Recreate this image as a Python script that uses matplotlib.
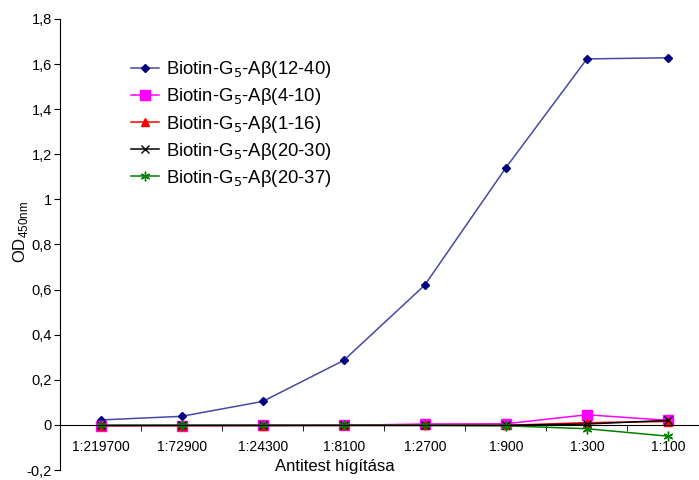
import numpy as np
import matplotlib
matplotlib.use("Agg")
import matplotlib.pyplot as plt

plt.rcParams["font.family"] = ["Liberation Sans", "DejaVu Sans"]

dilutions = ["1:219700", "1:72900", "1:24300", "1:8100", "1:2700", "1:900", "1:300", "1:100"]
od_12_40 = [0.022, 0.038, 0.104, 0.286, 0.620, 1.140, 1.623, 1.628]
od_4_10 = [-0.003, -0.003, -0.002, -0.002, 0.004, 0.005, 0.045, 0.020]
od_1_16 = [-0.004, -0.003, -0.003, -0.002, -0.002, -0.002, 0.010, 0.015]
od_20_30 = [-0.002, -0.002, -0.002, -0.002, -0.002, -0.002, 0.004, 0.020]
od_20_37 = [-0.002, -0.002, -0.002, -0.002, -0.002, -0.004, -0.017, -0.050]

series = [
    ("Biotin-G$_5$-Aβ(12-40)", od_12_40, dict(color="#4848a8", marker="D", ms=4.5, mfc="#000080", mec="#000080")),
    ("Biotin-G$_5$-Aβ(4-10)", od_4_10, dict(color="#ff00ff", marker="s", ms=6.5)),
    ("Biotin-G$_5$-Aβ(1-16)", od_1_16, dict(color="#ff0000", marker="^", ms=6)),
    ("Biotin-G$_5$-Aβ(20-30)", od_20_30, dict(color="#000000", marker="x", ms=6, mew=1.0)),
    ("Biotin-G$_5$-Aβ(20-37)", od_20_37, dict(color="#008000", marker=(6, 2, 0), ms=7, mew=1.0)),
]


def fmt(v):
    s = f"{v:.1f}".rstrip("0").rstrip(".")
    return "0" if s in ("0", "-0") else s.replace(".", ",")


fig = plt.figure(figsize=(6.99, 4.8), dpi=100)
ax = fig.add_axes([60 / 699, 10 / 480, 648.5 / 699, 451 / 480])
x = np.arange(len(dilutions))

for label, vals, style in series:
    ax.plot(x, vals, lw=1.1, label=label, **style)

ax.set_xlim(-0.5, len(dilutions) - 0.5)
ax.set_ylim(-0.2, 1.8)
ax.spines["top"].set_visible(False)
ax.spines["right"].set_visible(False)
ax.spines["bottom"].set_position(("data", 0))

yt = np.arange(-0.2, 1.81, 0.2)
ax.set_yticks(yt)
ax.set_yticklabels([fmt(v) for v in yt])
ax.tick_params(axis="y", direction="out", length=4, labelsize=10.5, pad=2)

ax.set_xticks(x)
ax.set_xticklabels(dilutions)
ax.set_xticks(x[:-1] + 0.5, minor=True)
ax.tick_params(axis="x", which="major", length=0, labelsize=10, pad=11)
ax.tick_params(axis="x", which="minor", direction="out", length=4)

fig.text(335 / 699, 1 - 467 / 480, "Antitest hígítása", ha="center", va="center", fontsize=12)
fig.text(20 / 699, 1 - 232 / 480, r"OD$_{\mathregular{450nm}}$", ha="center", va="center",
         rotation=90, fontsize=12)

ax.legend(loc="upper left", bbox_to_anchor=(64 / 648.5, 0.927), frameon=False, fontsize=13.3,
          handlelength=1.5, handletextpad=0.4, labelspacing=0.33, borderaxespad=0)

plt.savefig("out.png", dpi=100)
plt.close(fig)
